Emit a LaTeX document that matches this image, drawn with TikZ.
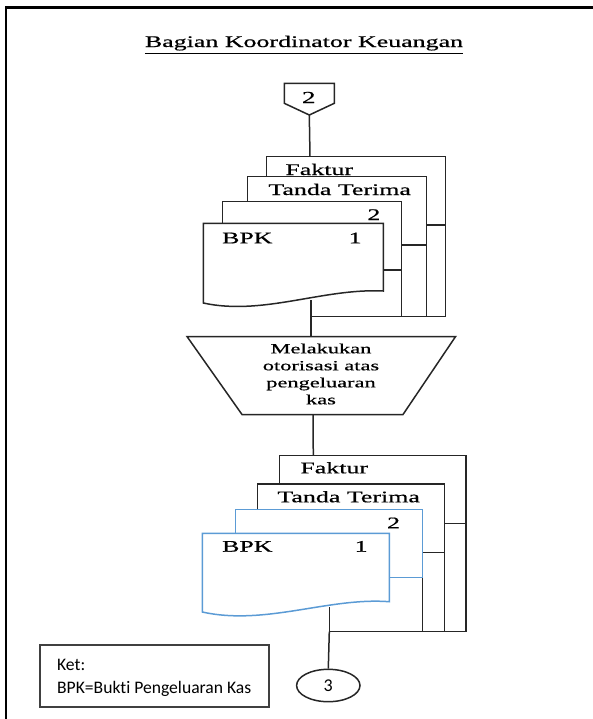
\documentclass[tikz,border=0pt]{standalone}
\usepackage{fontspec}
\setmainfont{Liberation Serif}[FakeStretch=1.6,FakeBold=0.6]
\newfontfamily\calibri{Carlito}[Ligatures=NoCommon]
\usetikzlibrary{shapes.geometric}
\definecolor{docblue}{RGB}{91,155,213}
\tikzset{
  doc/.style={draw=black!85,fill=white,line width=0.75pt},
  bluedoc/.style={doc,draw=docblue},
  flow/.style={draw=black!85,line width=0.75pt},
  lbl/.style={anchor=base west,inner sep=0pt,font=\fontsize{8.1}{9.7}\selectfont},
  ketlbl/.style={anchor=base west,inner sep=0pt,font=\calibri\fontsize{8.8}{10}\selectfont}
}
\begin{document}
\begin{tikzpicture}[x=0.5pt,y=-0.5pt]
\useasboundingbox (0,0) rectangle (593,719);
% frame
\draw[line width=1.25pt] (6,719) -- (6,7.5) -- (593,7.5);
\node[anchor=base,inner sep=0pt,font=\fontsize{8.1}{9.7}\selectfont] (title) at (304,47) {\underline{Bagian Koordinator Keuangan}};
% off-page connector
\draw[doc] (284.3,83.3) -- (334.3,83.3) -- (334.3,103.3) -- (309.3,115) -- (284.3,103.3) -- cycle;
\coordinate (c2) at (309.3,115);
\node[inner sep=0pt,font=\fontsize{8.5}{10}\selectfont] (n2) at (308.8,97.5) {2};
% documents, first group
\coordinate (top1) at (310,156.7);
\coordinate (j1) at (311,316.7);
\coordinate (r1) at (445.7,316.7);
\draw[flow] (c2) -- (top1);
\draw[flow] (445.7,225) -- (r1) -- (j1);
\draw[flow] (426.7,245) -- (426.7,316.7);
\draw[flow] (401.7,270) -- (401.7,316.7);
\draw[doc] (266.7,156.7) rectangle (445.7,225);
\draw[doc] (247.7,176.7) rectangle (426.7,245);
\draw[doc] (222.3,201.7) rectangle (401.7,270);
\coordinate (bpk1) at (311,300);
\draw[flow] (bpk1) -- (j1);
\draw[doc] (203.3,223.3) -- (383.3,223.3) -- (383.3,291)
  .. controls (323,288) and (263,316) .. (203.3,303) -- cycle;
\node[lbl] (faktur1) at (285,175) {Faktur};
\node[lbl] (tanda1) at (268,195) {Tanda Terima};
\node[lbl] (lembar1) at (367,220) {2};
\node[lbl] (bpkA) at (221.7,243.3) {BPK};
\node[lbl] (satu1) at (348.3,243.3) {1};
% authorisation
\coordinate (ttop) at (311,336.5);
\coordinate (tbot) at (313,414.5);
\draw[flow] (j1) -- (ttop);
\draw[doc] (187,336.5) -- (455.6,336.5) -- (403,414.5) -- (242,414.5) -- cycle;
\node[align=center,inner sep=0pt,font=\fontsize{7}{8.5}\selectfont] (otor) at (321,374)
  {Melakukan\\otorisasi atas\\pengeluaran\\kas};
% documents, second group
\coordinate (top2) at (313.3,455.7);
\coordinate (j2) at (329.3,631.7);
\coordinate (r2) at (466,631.7);
\draw[flow] (tbot) -- (top2);
\draw[flow] (466,523.3) -- (r2) -- (j2);
\draw[flow] (444.3,552.7) -- (444.3,631.7);
\draw[flow] (422.3,577.3) -- (422.3,631.7);
\draw[doc] (279.3,455.7) rectangle (466,523.3);
\draw[doc] (257.7,484) rectangle (444.3,552.7);
\draw[bluedoc] (235.7,509.3) rectangle (422.3,577.3);
\coordinate (bpk2) at (329.3,607);
\draw[flow] (bpk2) -- (j2);
\draw[bluedoc] (202.3,533.3) -- (389.3,533.3) -- (389.3,601.7)
  .. controls (329,597) and (265,626) .. (202.3,612) -- cycle;
\node[lbl] (faktur2) at (300,473.3) {Faktur};
\node[lbl] (tanda2) at (277,502.3) {Tanda Terima};
\node[lbl] (lembar2) at (386.7,528.3) {2};
\node[lbl] (bpkB) at (221.7,551.7) {BPK};
\node[lbl] (satu2) at (354.3,551.7) {1};
% off-page connector 3
\node[draw=black!85,line width=0.75pt,ellipse,minimum width=31.7pt,minimum height=16.2pt,
  inner sep=0pt,font=\calibri\fontsize{9}{10}\selectfont] (e3) at (328.3,685.5) {3};
\draw[flow] (j2) -- (e3.north);
% legend
\draw[draw=black!75,line width=1pt] (40,645) rectangle (269.3,707.3);
\node[ketlbl] (ket) at (56.7,670) {Ket:};
\node[ketlbl] (ketbpk) at (56.7,693.3) {BPK=Bukti Pengeluaran Kas};
\end{tikzpicture}
\end{document}
